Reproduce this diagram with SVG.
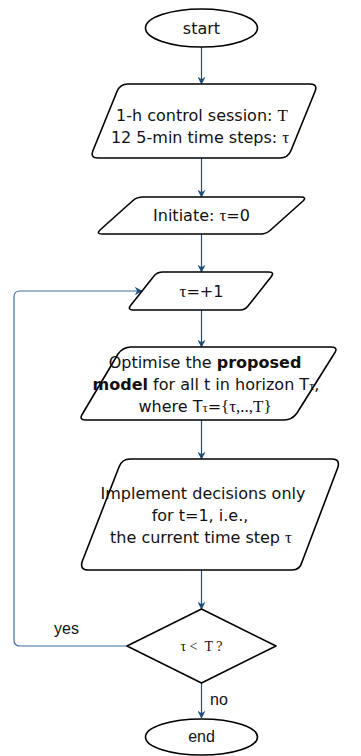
<svg xmlns="http://www.w3.org/2000/svg" width="361" height="756" viewBox="0 0 361 756">
<style>
.shape{fill:#fff;stroke:#000;stroke-width:1.6;stroke-linejoin:round}
.t{font-family:"DejaVu Sans","Liberation Sans",sans-serif;font-size:16px;fill:#111;text-anchor:middle}
.s{font-family:"Liberation Serif","DejaVu Serif",serif}
.conn{fill:none;stroke:#1f4e79;stroke-width:1.2}
.loop{fill:none;stroke:#3f6e9e;stroke-width:1.2}
.lbl{font-family:"Liberation Sans",Arial,sans-serif;font-size:16px;fill:#111}
</style>
<defs>
<marker id="ah" viewBox="0 0 10 10" refX="9" refY="5" markerWidth="8" markerHeight="8" markerUnits="userSpaceOnUse" orient="auto">
<path d="M0,0 L10,5 L0,10 L3,5 Z" fill="#1f4e79"/>
</marker>
</defs>
<g id="connectors">
<line class="conn" x1="201.5" y1="47" x2="201.5" y2="84" marker-end="url(#ah)"/>
<line class="conn" x1="201.5" y1="158" x2="201.5" y2="197" marker-end="url(#ah)"/>
<line class="conn" x1="201.5" y1="234" x2="201.5" y2="272" marker-end="url(#ah)"/>
<line class="conn" x1="201.5" y1="310" x2="201.5" y2="347" marker-end="url(#ah)"/>
<line class="conn" x1="201.5" y1="420" x2="201.5" y2="459" marker-end="url(#ah)"/>
<line class="conn" x1="201.5" y1="570" x2="201.5" y2="609" marker-end="url(#ah)"/>
<line class="conn" x1="201.5" y1="683" x2="201.5" y2="718" marker-end="url(#ah)"/>
<path class="loop" d="M127,646 L20,646 Q14,646 14,640 L14,297 Q14,291 20,291 L142,291" marker-end="url(#ah)"/>
<text class="lbl" x="54" y="634">yes</text>
<text class="lbl" x="210" y="705">no</text>
</g>
<g id="start">
<ellipse class="shape" cx="201.5" cy="28" rx="56" ry="19"/>
<text class="t" x="201.5" y="34">start</text>
</g>
<g id="session">
<path class="shape" d="M128,84 L310,84 Q318,84 315,91.5 L291,150.5 Q288,158 280,158 L98,158 Q90,158 93,150.5 L117,91.5 Q120,84 128,84 Z"/>
<text class="t" x="202" y="121">1-h control session: <tspan class="s" font-size="17">T</tspan></text>
<text class="t" x="200" y="143">12 5-min time steps: <tspan class="s" font-size="17">τ</tspan></text>
</g>
<g id="initiate">
<path class="shape" d="M143,197 L301,197 Q307,197 303,201 L270,230.5 Q266,234 261,234 L102,234 Q96,234 100,230 L133,200.5 Q137,197 143,197 Z"/>
<text class="t" x="201.5" y="221">Initiate: <tspan class="s" font-size="17">τ</tspan>=0</text>
</g>
<g id="increment">
<path class="shape" d="M163,272 L269,272 Q275,272 271,277 L248,306 Q245,310 240,310 L133,310 Q127,310 131,305 L154,276 Q157,272 163,272 Z"/>
<text class="t" x="201.5" y="297"><tspan class="s" font-size="17">τ</tspan>=+1</text>
</g>
<g id="optimise">
<path class="shape" d="M131,347 L331,347 Q339,347 334,354 L297,413 Q292,420 284,420 L86,420 Q78,420 83,413 L118,354 Q123,347 131,347 Z"/>
<text class="t" x="205" y="368">Optimise the <tspan font-weight="bold">proposed</tspan></text>
<text class="t" x="206" y="390"><tspan font-weight="bold">model</tspan> for all t in horizon T<tspan class="s" font-size="13">τ</tspan>,</text>
<text class="t" x="205" y="412">where T<tspan class="s" font-size="13">τ</tspan>=<tspan class="s" font-size="17">{τ,..,T}</tspan></text>
</g>
<g id="implement">
<path class="shape" d="M130,459 L332,459 Q340,459 338,467 L302,562 Q300,570 292,570 L88,570 Q80,570 82,562 L119,467 Q122,459 130,459 Z"/>
<text class="t" x="203" y="499">Implement decisions only</text>
<text class="t" x="200" y="521">for t=1, i.e.,</text>
<text class="t" x="201" y="543">the current time step <tspan class="s" font-size="17">τ</tspan></text>
</g>
<g id="decision">
<path class="shape" d="M201.5,609 L276,646 L201.5,683 L127,646 Z"/>
<text class="s" x="201.5" y="651" font-size="14" text-anchor="middle" fill="#111" xml:space="preserve">τ &lt;  T ?</text>
</g>
<g id="end">
<ellipse class="shape" cx="201.5" cy="737" rx="56" ry="18"/>
<text class="lbl" x="201.5" y="742" font-size="14" text-anchor="middle">end</text>
</g>
</svg>
